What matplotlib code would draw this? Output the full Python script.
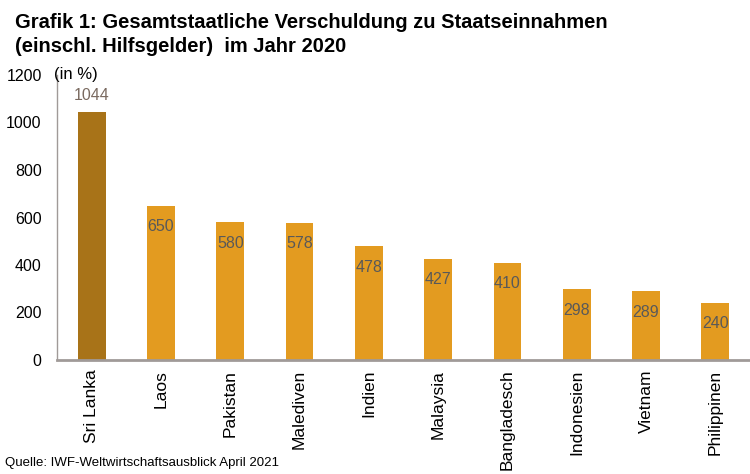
import matplotlib.pyplot as plt
import numpy as np

countries = ["Sri Lanka", "Laos", "Pakistan", "Malediven", "Indien",
             "Malaysia", "Bangladesch", "Indonesien", "Vietnam", "Philippinen"]
values = [1044, 650, 580, 578, 478, 427, 410, 298, 289, 240]
yticks = [0, 200, 400, 600, 800, 1000, 1200]

plt.rcParams['font.family'] = ['Liberation Sans', 'DejaVu Sans']

fig = plt.figure(figsize=(7.5, 4.74), dpi=100)
ax = fig.add_axes([57/750, 1 - 360/474, 693/750, 285/474])

colors = ['#A87318'] + ['#E39B20'] * (len(values) - 1)
x = np.arange(len(countries))
bars = ax.bar(x, values, width=0.4, color=colors, zorder=2)

for i, (b, v) in enumerate(zip(bars, values)):
    if i == 0:
        ax.annotate(str(v), (b.get_x() + b.get_width() / 2, v), xytext=(0, 12),
                    textcoords='offset points', ha='center', va='center',
                    fontsize=11.5, color='#7a6a60')
    else:
        ax.annotate(str(v), (b.get_x() + b.get_width() / 2, v), xytext=(0, -15),
                    textcoords='offset points', ha='center', va='center',
                    fontsize=11.5, color='#595959')

ax.set_xlim(-0.5, len(countries) - 0.5)
ax.set_ylim(0, 1200)
ax.set_yticks(yticks)
ax.set_yticklabels([str(t) for t in yticks], fontsize=11.5)
ax.set_xticks(x)
ax.set_xticklabels(countries, rotation=90, fontsize=12.5)
ax.tick_params(axis='y', length=0, pad=11)
ax.tick_params(axis='x', length=0, pad=7)

for s in ['top', 'right']:
    ax.spines[s].set_visible(False)
ax.spines['left'].set_color('#A09A98')
ax.spines['left'].set_linewidth(1)
ax.spines['bottom'].set_color('#A09A98')
ax.spines['bottom'].set_linewidth(2)

ax.text(-0.004, 1.0, "(in %)", transform=ax.transAxes, fontsize=12,
        ha='left', va='center')

fig.text(15/750, 1 - 22/474, "Grafik 1: Gesamtstaatliche Verschuldung zu Staatseinnahmen",
         fontsize=14.5, fontweight='bold', ha='left', va='center')
fig.text(15/750, 1 - 46/474, "(einschl. Hilfsgelder)  im Jahr 2020",
         fontsize=14.5, fontweight='bold', ha='left', va='center')
fig.text(5/750, 1 - 463/474, "Quelle: IWF-Weltwirtschaftsausblick April 2021",
         fontsize=9.5, ha='left', va='center')

fig.savefig("out.png", dpi=100)
